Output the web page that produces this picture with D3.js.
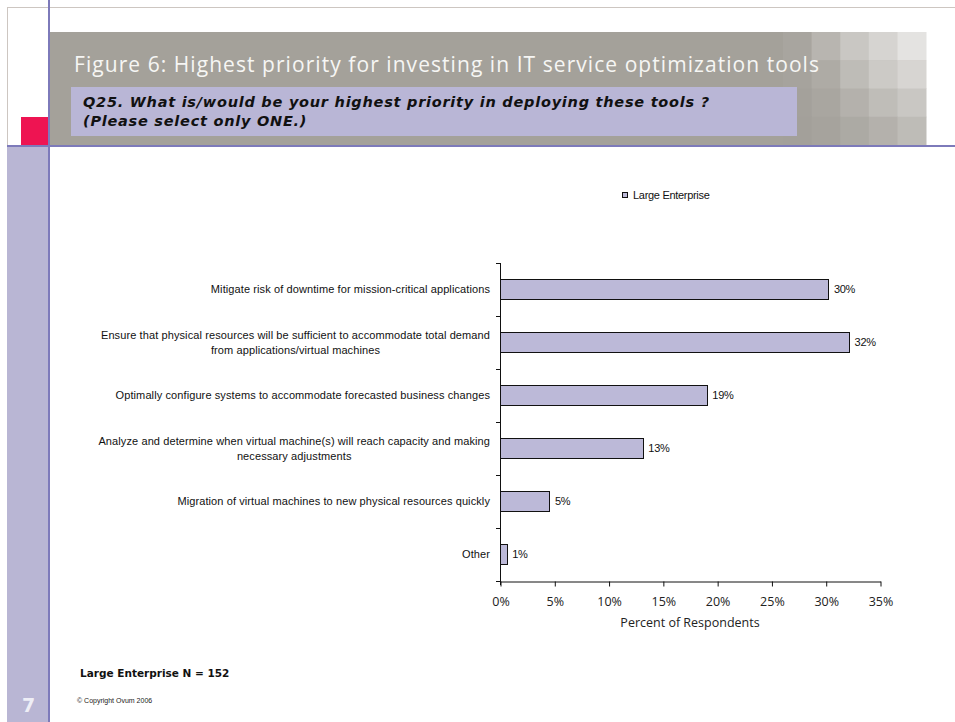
<!DOCTYPE html>
<html>
<head>
<meta charset="utf-8">
<script src="https://cdn.jsdelivr.net/npm/d3@7"></script>
<style>
  html, body { margin: 0; padding: 0; background: #ffffff; }
  svg { display: block; }
</style>
</head>
<body>
<svg id="slide" width="955" height="722"></svg>
<script>
// ---- data ----
const categories = [
  "Mitigate risk of downtime for mission-critical applications",
  "Ensure that physical resources will be sufficient to accommodate total demand\nfrom applications/virtual machines",
  "Optimally configure systems to accommodate forecasted business changes",
  "Analyze and determine when virtual machine(s) will reach capacity and making\nnecessary adjustments",
  "Migration of virtual machines to new physical resources quickly",
  "Other"
];
// share of respondents (N = 152)
const largeEnterprise = [0.303, 0.322, 0.191, 0.132, 0.046, 0.0066];
const xTicks = [0, 0.05, 0.10, 0.15, 0.20, 0.25, 0.30, 0.35];
const seriesName = "Large Enterprise";
const titleText = "Figure 6: Highest priority for investing in IT service optimization tools";
const questionLines = [
  "Q25. What is/would be your highest priority in deploying these tools ?",
  "(Please select only ONE.)"
];
const sampleNote = "Large Enterprise N = 152";
const copyright = "\u00A9 Copyright Ovum 2006";
const pageNumber = "7";
// header tile shades (rows top to bottom, columns left to right)
const tileShades = [
  ["#a8a59f", "#b8b5b0", "#c9c7c3", "#d6d4d1", "#e4e3e1"],
  ["#a6a39d", "#aeaba5", "#bebcb7", "#cccac6", "#d7d5d2"],
  ["#a4a19b", "#a9a6a0", "#b4b1ac", "#bfbdb8", "#c9c7c3"],
  ["#a3a09a", "#a6a39d", "#acaaa4", "#b4b1ac", "#bebcb7"]
];

const svg = d3.select("#slide");

// ---- slide frame ----
const frame = svg.append("g");
frame.append("rect").attr("x", 50).attr("y", 32).attr("width", 876).attr("height", 113).attr("fill", "#a4a19a");
const tiles = frame.append("g");
const tileX = d3.scaleBand().domain(d3.range(5)).range([783, 926]);
const tileY = d3.scaleBand().domain(d3.range(4)).range([32, 145]);
tileShades.forEach((row, r) => row.forEach((c, i) => {
  tiles.append("rect").attr("x", tileX(i)).attr("y", tileY(r))
    .attr("width", tileX.bandwidth() + 0.5).attr("height", tileY.bandwidth() + 0.5).attr("fill", c);
}));
frame.append("line").attr("x1", 7).attr("x2", 955).attr("y1", 7.5).attr("y2", 7.5).attr("stroke", "#cdc6c1").attr("stroke-width", 1);
frame.append("line").attr("x1", 7.5).attr("x2", 7.5).attr("y1", 7).attr("y2", 146).attr("stroke", "#cdc6c1").attr("stroke-width", 1);
frame.append("rect").attr("x", 7).attr("y", 147).attr("width", 41).attr("height", 575).attr("fill", "#b9b6d4");
frame.append("rect").attr("x", 21).attr("y", 117).attr("width", 27).attr("height", 28).attr("fill", "#ee1452");
frame.append("rect").attr("x", 7).attr("y", 145).attr("width", 948).attr("height", 2).attr("fill", "#7d7aba");
frame.append("rect").attr("x", 48).attr("y", 0).attr("width", 2).attr("height", 722).attr("fill", "#7d7aba");

frame.append("text").attr("x", 74).attr("y", 72)
  .attr("font-family", "'Open Sans', 'DejaVu Sans', sans-serif").attr("font-size", 21)
  .attr("textLength", 745).attr("lengthAdjust", "spacing")
  .attr("fill", "#f6f6f4").text(titleText);

frame.append("rect").attr("x", 71).attr("y", 87).attr("width", 726).attr("height", 49).attr("fill", "#b9b6d6");
frame.selectAll("text.q").data(questionLines).join("text").attr("class", "q")
  .attr("x", 83).attr("y", (d, i) => 107 + i * 19)
  .attr("font-family", "'DejaVu Sans', Verdana, sans-serif").attr("font-size", 14.5)
  .attr("letter-spacing", 0.75)
  .attr("font-weight", "bold").attr("font-style", "italic").attr("fill", "#111")
  .text(d => d);

frame.append("text").attr("x", 22).attr("y", 712)
  .attr("font-family", "'DejaVu Sans', sans-serif").attr("font-size", 19).attr("font-weight", "bold")
  .attr("fill", "#eeeef6").text(pageNumber);

svg.append("text").attr("x", 80).attr("y", 677)
  .attr("font-family", "'DejaVu Sans', Verdana, sans-serif").attr("font-size", 10.5).attr("font-weight", "bold")
  .attr("fill", "#111").text(sampleNote);
svg.append("text").attr("x", 77).attr("y", 703)
  .attr("font-family", "'Liberation Sans', Arial, sans-serif").attr("font-size", 7)
  .attr("fill", "#222").text(copyright);

// ---- chart ----
const x = d3.scaleLinear().domain([0, 0.35]).range([500, 880]);
const y = d3.scaleBand().domain(categories).range([263, 581]).paddingInner(0.62).paddingOuter(0.31);
const chart = svg.append("g");
const labelFont = "'Liberation Sans', Arial, sans-serif";

// bars
chart.selectAll("rect.bar").data(largeEnterprise).join("rect").attr("class", "bar")
  .attr("x", x(0)).attr("y", (d, i) => y(categories[i]))
  .attr("width", d => x(d) - x(0)).attr("height", y.bandwidth())
  .attr("fill", "#bcb9d8").attr("stroke", "#111").attr("stroke-width", 1)
  .attr("shape-rendering", "crispEdges");

// value labels
const pct = d3.format(".0%");
chart.selectAll("text.val").data(largeEnterprise).join("text").attr("class", "val")
  .attr("x", d => x(d) + 5).attr("y", (d, i) => y(categories[i]) + y.bandwidth() / 2)
  .attr("dy", "0.35em").attr("font-family", labelFont).attr("font-size", 11)
  .attr("letter-spacing", -0.3).attr("fill", "#111").text(d => pct(d));

// category axis: line with ticks between categories
const [y0, y1] = y.range();
chart.append("line").attr("x1", x(0) + 0.5).attr("x2", x(0) + 0.5).attr("y1", y0).attr("y2", y1 + 4)
  .attr("stroke", "#111");
chart.selectAll("line.ytick").data(d3.range(categories.length + 1)).join("line").attr("class", "ytick")
  .attr("x1", x(0) - 4).attr("x2", x(0)).attr("y1", i => Math.round(y0 + i * y.step()) + 0.5)
  .attr("y2", i => Math.round(y0 + i * y.step()) + 0.5).attr("stroke", "#111");

// category labels
categories.forEach((c, i) => {
  const lines = c.split("\n");
  const cy = y(c) + y.bandwidth() / 2;
  const lh = 15;
  const g = chart.append("g");
  const t = g.selectAll("text").data(lines).join("text")
    .attr("y", (d, j) => cy + (j - (lines.length - 1) / 2) * lh)
    .attr("dy", "0.35em").attr("font-family", labelFont).attr("font-size", 11)
    .attr("letter-spacing", 0.1).attr("fill", "#111").text(d => d);
  const w = d3.max(t.nodes(), n => n.getComputedTextLength());
  t.attr("x", 490 - w / 2).attr("text-anchor", "middle");
});

// value axis
const xAxis = d3.axisBottom(x).tickValues(xTicks).tickFormat(d3.format(".0%")).tickSize(5).tickSizeOuter(0);
const gx = chart.append("g").attr("transform", `translate(0.5,${y1 + 0.5})`).call(xAxis);
gx.select(".domain").attr("stroke", "#111");
gx.selectAll(".tick line").attr("stroke", "#111");
gx.selectAll(".tick text").attr("font-family", "'Open Sans', 'DejaVu Sans', sans-serif")
  .attr("font-size", 12.5).attr("fill", "#222").attr("dy", "1.3em");

chart.append("text").attr("x", (x(0) + x(0.35)) / 2).attr("y", 627).attr("text-anchor", "middle")
  .attr("font-family", "'Open Sans', 'DejaVu Sans', sans-serif").attr("font-size", 12.5)
  .attr("fill", "#222").text("Percent of Respondents");

// legend
const legend = chart.append("g").attr("transform", "translate(622,192)");
legend.append("rect").attr("x", 0.5).attr("y", 0.5).attr("width", 5).attr("height", 5)
  .attr("fill", "#bcb9d8").attr("stroke", "#111");
legend.append("text").attr("x", 11).attr("y", 3).attr("dy", "0.35em")
  .attr("font-family", labelFont).attr("font-size", 11).attr("letter-spacing", -0.3)
  .attr("fill", "#111").text(seriesName);
</script>
</body>
</html>
